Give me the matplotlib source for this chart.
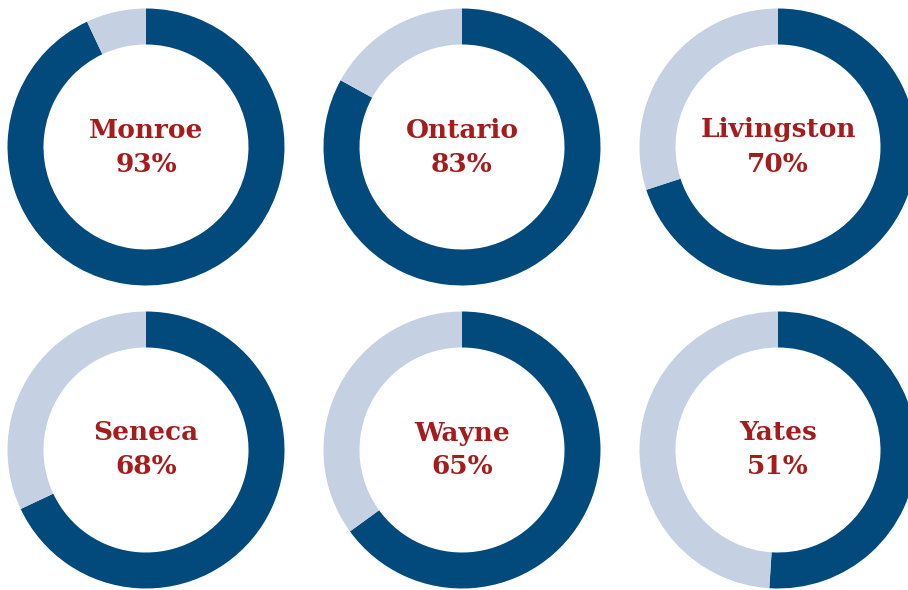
import matplotlib
matplotlib.use("Agg")
import matplotlib.pyplot as plt

counties = ["Monroe", "Ontario", "Livingston", "Seneca", "Wayne", "Yates"]
percent = [93, 83, 70, 68, 65, 51]

DARK = "#014a7b"
LIGHT = "#c5d1e3"
RED = "#a51c1c"

W, H = 908, 590
fig = plt.figure(figsize=(W / 100, H / 100), dpi=100)
ax = fig.add_axes([0, 0, 1, 1])
ax.set_xlim(0, W)
ax.set_ylim(0, H)
ax.set_aspect("equal")
ax.axis("off")

col_x = [146, 462, 778]
row_y = [147, 450]
R_OUT = 138.5
RING = 36

for i, (name, p) in enumerate(zip(counties, percent)):
    cx = col_x[i % 3]
    cy = H - row_y[i // 3]
    ax.pie([p, 100 - p], colors=[DARK, LIGHT], startangle=90, counterclock=False,
           radius=R_OUT, center=(cx, cy), frame=True,
           wedgeprops=dict(width=RING, linewidth=0))
    ax.text(cx, cy + 17, name, ha="center", va="center", color=RED,
            fontsize=19, fontweight="bold", family="DejaVu Serif")
    ax.text(cx, cy - 17, f"{p}%", ha="center", va="center", color=RED,
            fontsize=19, fontweight="bold", family="DejaVu Serif")

ax.set_xlim(0, W)
ax.set_ylim(0, H)
ax.axis("off")
fig.savefig("out.png", dpi=100)
